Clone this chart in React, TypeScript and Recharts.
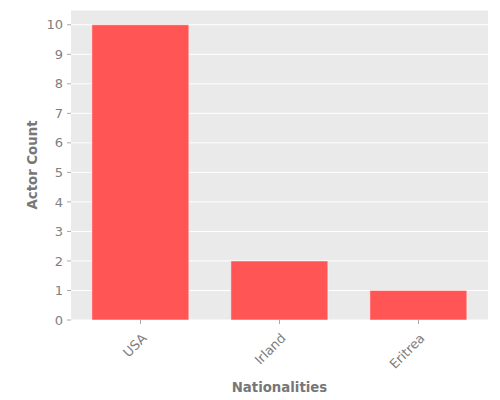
import { Bar, BarChart, CartesianGrid, XAxis, YAxis, Label } from 'recharts';

const BAR = '#FF5555';
const BG = '#EAEAEA';
const TEXT = '#808080';

const nationalities = ['USA', 'Irland', 'Eritrea'];
const actorCounts = [10, 2, 1];
const yTicks = [0, 1, 2, 3, 4, 5, 6, 7, 8, 9, 10];

const data = nationalities.map((name, i) => ({ name, count: actorCounts[i] }));

function RotatedTick({ x, y, payload }: any) {
  const ax = x + 7;
  const ay = y + 13;
  return (
    <text
      x={ax}
      y={ay}
      textAnchor="end"
      fill={TEXT}
      fontSize={13}
      fontFamily="DejaVu Sans"
      transform={`rotate(-45, ${ax}, ${ay})`}
    >
      {payload.value}
    </text>
  );
}

export default function App() {
  return (
    <div style={{ position: 'absolute', left: 0, top: 0, width: 500, height: 400, background: '#fff' }}>
      <BarChart
        width={500}
        height={400}
        data={data}
        margin={{ top: 10, right: 12, left: 0, bottom: 0 }}
        barCategoryGap="15%"
      >
        <CartesianGrid fill={BG} stroke="#fff" strokeWidth={1} vertical={false} />
        <XAxis
          dataKey="name"
          height={80}
          axisLine={false}
          tickLine={{ stroke: '#aaa' }}
          tickSize={4}
          tick={<RotatedTick />}
          interval={0}
        >
          <Label
            value="Nationalities"
            position="insideBottom"
            offset={8}
            fill="#777"
            fontSize={13.3}
            fontWeight="bold"
            fontFamily="DejaVu Sans"
          />
        </XAxis>
        <YAxis
          width={71}
          domain={[0, 10.5]}
          ticks={yTicks}
          interval={0}
          axisLine={false}
          tickLine={{ stroke: '#aaa' }}
          tickSize={4}
          tickMargin={4}
          tick={{ fill: TEXT, fontSize: 13, fontFamily: 'DejaVu Sans' }}
        >
          <Label
            value="Actor Count"
            angle={-90}
            position="insideLeft"
            offset={32}
            fill="#777"
            fontSize={13.3}
            fontWeight="bold"
            fontFamily="DejaVu Sans"
            style={{ textAnchor: 'middle' }}
          />
        </YAxis>
        <Bar dataKey="count" fill={BAR} stroke="#fff" strokeWidth={0.5} isAnimationActive={false} />
      </BarChart>
    </div>
  );
}
